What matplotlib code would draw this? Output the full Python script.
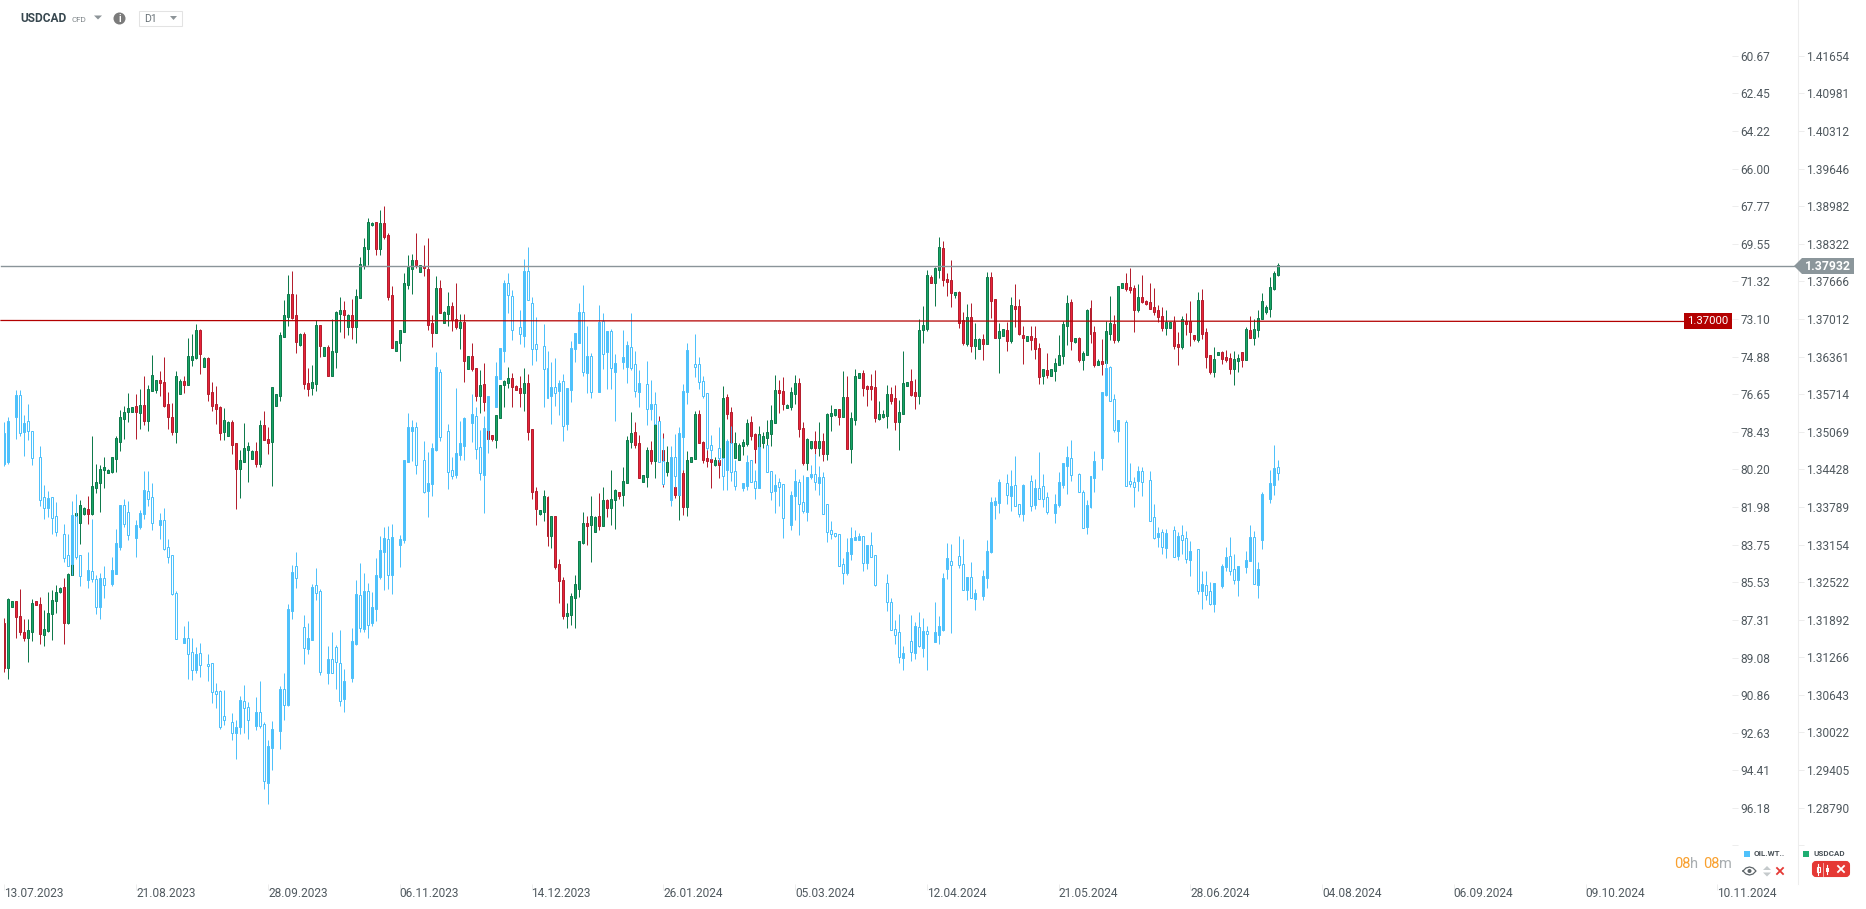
import matplotlib
matplotlib.use('Agg')
import matplotlib.pyplot as plt
from matplotlib.patches import Rectangle, Polygon, Circle, FancyBboxPatch
from matplotlib.ticker import NullLocator, FixedLocator, FixedFormatter

plt.rcParams['font.family'] = ['Roboto', 'DejaVu Sans']

# USDCAD daily candles: open, high, low, close in 1/10000
usd_part1 = [
[13183,13192,13103,13108],[13108,13225,13091,13224],[13211,13221,13210,13220],[13220,13221,13159,13193],[13195,13240,13163,13168],[13168,13190,13154,13159],
[13159,13191,13118,13172],[13168,13224,13153,13217],[13220,13220,13213,13213],[13215,13227,13149,13166],[13164,13206,13146,13173],[13171,13235,13169,13200],
[13198,13239,13156,13222],[13220,13247,13200,13235],[13235,13244,13234,13242],[13244,13259,13149,13183],[13184,13267,13182,13266],[13264,13340,13264,13334],
[13334,13385,13318,13368],[13351,13391,13317,13383],[13367,13378,13366,13377],[13376,13397,13350,13367],[13367,13500,13365,13414],[13411,13452,13402,13421],
[13419,13450,13370,13444],[13442,13464,13411,13446],[13437,13443,13437,13442],[13438,13464,13437,13464],[13461,13500,13438,13496],[13490,13544,13474,13532],
[13529,13551,13495,13540],[13541,13573,13524,13547],[13540,13550,13540,13550],[13551,13572,13495,13540],[13539,13580,13512,13553],[13553,13603,13519,13526],
[13526,13587,13509,13580],[13577,13639,13577,13604],[13579,13596,13573,13595],[13595,13611,13568,13590],[13593,13635,13549,13551],[13555,13575,13512,13532],
[13532,13556,13502,13507],[13507,13611,13488,13603],[13572,13597,13572,13594],[13594,13603,13573,13587],[13587,13668,13587,13637],[13630,13675,13620,13637],
[13634,13693,13632,13682],[13682,13683,13606,13641],[13619,13635,13618,13634],[13634,13635,13560,13572],[13575,13592,13543,13551],[13555,13585,13521,13546],
[13550,13551,13492,13505],[13507,13548,13493,13527],[13500,13526,13500,13524],[13524,13527,13469,13485],[13487,13488,13375,13443],[13443,13476,13394,13459],
[13455,13522,13455,13479],[13476,13490,13421,13483],[13460,13476,13460,13474],[13474,13490,13447,13452],[13452,13527,13447,13518],[13518,13543,13492,13492],
[13495,13515,13469,13488],[13489,13584,13414,13584],[13551,13572,13551,13571],[13568,13679,13560,13674],[13670,13734,13670,13708],[13705,13778,13689,13745],
[13745,13785,13701,13703],[13708,13745,13642,13661],[13656,13677,13654,13676],[13675,13679,13580,13589],[13590,13616,13568,13580],[13582,13622,13570,13592],
[13589,13700,13577,13691],[13691,13691,13635,13654],[13637,13653,13637,13653],[13653,13656,13603,13603],[13603,13701,13603,13646],[13644,13715,13616,13713],
[13710,13739,13679,13717],[13717,13733,13668,13708],[13687,13710,13674,13708],[13708,13736,13667,13687],[13687,13753,13660,13741],[13738,13809,13738,13797],
[13793,13842,13788,13826],[13824,13878,13795,13871],[13865,13871,13864,13869],[13870,13871,13812,13823],[13823,13891,13812,13869],[13869,13898,13840,13844],
[13847,13851,13734,13739],[13743,13759,13651,13651],[13646,13663,13646,13663],[13660,13682,13628,13682],[13679,13781,13679,13764],[13760,13812,13753,13792],
[13788,13814,13745,13804],[13804,13852,13790,13795],[13783,13795,13783,13795],[13794,13830,13776,13790],[13788,13842,13682,13691],[13694,13708,13653,13677],
[13677,13776,13677,13755],[13755,13769,13711,13712],[13694,13715,13694,13714],[13710,13748,13689,13724],
]
usd_part2 = [
[13724,13731,13681,13700],[13702,13764,13684,13688],[13686,13710,13650,13696],[13696,13710,13592,13629],[13615,13637,13615,13637],[13637,13660,13611,13615],
[13617,13617,13560,13568],[13568,13613,13539,13587],[13589,13625,13543,13558],[13527,13567,13493,13494],[13502,13502,13491,13494],[13493,13536,13479,13536],
[13531,13587,13531,13587],[13587,13596,13550,13594],[13591,13618,13582,13599],[13599,13608,13550,13584],[13585,13587,13579,13579],[13582,13603,13550,13573],
[13573,13617,13543,13591],[13591,13606,13493,13507],[13512,13512,13392,13404],[13406,13413,13348,13376],[13367,13374,13365,13374],[13370,13408,13355,13398],
[13396,13398,13313,13330],[13330,13364,13310,13364],[13364,13364,13275,13278],[13283,13291,13217,13254],[13256,13261,13191,13196],[13196,13217,13175,13201],
[13197,13234,13180,13229],[13226,13264,13175,13249],[13241,13321,13228,13321],[13318,13370,13317,13352],[13352,13364,13315,13347],[13348,13398,13286,13364],
[13337,13364,13337,13362],[13364,13402,13340,13347],[13347,13413,13347,13391],[13391,13392,13362,13377],[13377,13442,13348,13392],[13391,13409,13342,13408],
[13404,13404,13392,13398],[13399,13447,13380,13423],[13420,13500,13420,13493],[13490,13541,13479,13505],[13507,13524,13479,13485],[13488,13502,13428,13428],
[13421,13433,13421,13433],[13430,13481,13413,13476],[13476,13491,13452,13457],[13457,13522,13428,13520],[13520,13534,13459,13470],[13476,13504,13413,13457],
[13438,13482,13431,13455],[13419,13459,13408,13448],[13413,13419,13394,13399],[13399,13448,13357,13430],[13436,13448,13365,13379],[13379,13474,13364,13459],
[13455,13464,13455,13464],[13461,13543,13461,13538],[13538,13544,13488,13488],[13490,13491,13454,13459],[13462,13477,13447,13457],[13460,13462,13411,13455],
[13450,13464,13449,13459],[13459,13464,13428,13450],[13462,13585,13459,13565],[13567,13572,13529,13538],[13541,13550,13470,13488],[13462,13507,13462,13488],
[13459,13487,13459,13485],[13482,13495,13467,13490],[13486,13529,13482,13522],[13524,13534,13493,13500],[13503,13504,13454,13478],[13479,13517,13476,13503],
[13488,13507,13479,13500],[13497,13527,13479,13507],[13503,13553,13483,13527],[13522,13604,13522,13579],[13579,13596,13539,13573],[13577,13601,13544,13555],
[13548,13555,13548,13553],[13550,13584,13544,13575],[13572,13604,13555,13591],[13591,13599,13498,13512],[13514,13524,13450,13454],[13454,13497,13442,13495],
[13479,13491,13477,13491],[13491,13509,13469,13479],[13479,13524,13466,13491],[13491,13504,13457,13469],[13469,13539,13459,13538],[13534,13553,13509,13539],
[13536,13546,13534,13546],[13546,13546,13519,13532],[13532,13611,13532,13567],[13567,13603,13478,13478],[13478,13541,13454,13530],[13527,13615,13519,13603],
[13599,13608,13599,13608],[13608,13613,13568,13582],[13585,13587,13551,13580],[13585,13606,13561,13580],[13584,13613,13524,13531],[13529,13560,13527,13538],
[13532,13544,13531,13538],[13534,13587,13514,13572],[13572,13584,13555,13560],[13564,13587,13510,13524],[13524,13561,13476,13541],
]
usd_part3 = [
[13538,13646,13538,13591],[13585,13592,13585,13592],[13594,13615,13568,13570],[13575,13598,13546,13568],[13568,13702,13555,13682],[13682,13724,13660,13691],
[13684,13787,13681,13778],[13774,13778,13764,13764],[13764,13792,13724,13790],[13787,13844,13773,13826],[13825,13837,13759,13769],[13771,13781,13741,13766],
[13769,13804,13722,13747],[13743,13748,13738,13748],[13748,13750,13685,13695],[13700,13714,13656,13660],[13658,13728,13655,13705],[13705,13729,13644,13655],
[13655,13695,13632,13667],[13650,13669,13650,13667],[13667,13676,13630,13658],[13658,13783,13658,13774],[13774,13783,13703,13733],[13736,13736,13669,13669],
[13669,13695,13608,13681],[13672,13684,13672,13684],[13682,13696,13646,13663],[13663,13740,13660,13726],[13724,13762,13688,13719],[13724,13736,13674,13676],
[13674,13689,13624,13669],[13663,13672,13663,13672],[13672,13689,13648,13665],[13669,13689,13632,13650],[13651,13660,13589,13601],[13603,13615,13589,13615],
[13613,13643,13599,13604],[13603,13615,13603,13615],[13611,13634,13594,13625],[13622,13674,13622,13639],[13637,13698,13624,13693],[13689,13743,13656,13729],
[13731,13736,13648,13663],[13662,13669,13660,13669],[13669,13670,13627,13630],[13630,13646,13613,13643],[13639,13719,13639,13717],[13721,13734,13660,13676],
[13679,13689,13618,13622],[13622,13632,13622,13629],[13629,13667,13604,13624],[13625,13698,13616,13681],[13676,13741,13665,13695],[13693,13708,13660,13665],
[13665,13759,13662,13759],[13755,13764,13755,13764],[13764,13781,13750,13754],[13757,13790,13747,13752],[13755,13761,13679,13717],[13717,13762,13714,13740],
[13740,13778,13729,13731],[13733,13734,13726,13728],[13731,13764,13719,13719],[13722,13755,13708,13714],[13717,13726,13696,13705],[13707,13722,13681,13686],
[13686,13717,13674,13696],[13686,13696,13686,13696],[13696,13707,13650,13655],[13658,13679,13622,13653],[13653,13707,13650,13701],[13698,13712,13674,13693],
[13698,13733,13655,13679],[13674,13674,13663,13667],[13665,13748,13662,13734],[13734,13754,13667,13676],[13679,13686,13617,13636],[13639,13639,13606,13610],
[13610,13653,13601,13632],[13639,13644,13639,13644],[13644,13646,13624,13632],[13636,13648,13627,13630],[13634,13643,13606,13615],[13615,13646,13587,13632],
[13629,13641,13610,13634],[13644,13644,13618,13630],[13630,13688,13630,13684],[13682,13707,13669,13669],[13669,13701,13656,13684],[13682,13717,13670,13703],
[13701,13747,13701,13733],[13714,13726,13710,13722],[13719,13774,13705,13757],[13754,13784,13752,13781],[13778,13798,13776,13795],
]

# OIL.WTI candles on the same dates: open, high, low, close in cents, None on days without a candle
oil_part1 = [
[7849,8003,7796,7992],[7984,7994,7772,7791],None,[7772,7876,7645,7668],[7668,7862,7645,7848],[7843,7956,7763,7800],[7791,7881,7711,7837],[7838,7999,7838,7966],None,
[7961,8192,7909,8164],[8150,8253,8093,8202],[8202,8244,8121,8154],[8150,8324,8150,8249],[8239,8334,8173,8315],None,[8324,8456,8277,8437],[8423,8475,8324,8475],
[8466,8518,8168,8235],[8239,8442,8135,8433],[8423,8570,8423,8522],None,[8541,8579,8409,8494],[8499,8551,8253,8537],[8537,8702,8518,8669],[8669,8725,8508,8532],
[8532,8626,8475,8565],None,[8560,8570,8433,8494],[8513,8513,8301,8367],[8386,8400,8187,8187],[8187,8290,8159,8277],[8220,8352,8168,8329],None,[8343,8433,8258,8282],
[8291,8301,8211,8225],[8230,8253,8027,8117],[8121,8192,8027,8159],[8150,8305,8084,8272],None,[8282,8348,8225,8258],[8258,8400,8201,8395],[8386,8461,8348,8433],
[8423,8612,8423,8607],[8603,8820,8593,8820],None,[8837,8837,8758,8817],[8817,9008,8735,8892],[8883,9013,8815,8968],[8969,8980,8857,8890],[8887,8999,8839,8944],None,
[8939,9018,8890,8949],[8935,9122,8935,9071],[9067,9145,9027,9081],[9067,9244,9060,9238],[9185,9226,9060,9205],None,[9213,9296,9169,9265],[9263,9386,9202,9235],
[9235,9268,9089,9108],[9112,9263,9037,9144],[9142,9292,9117,9205],None,[9230,9249,9093,9164],[9164,9240,9018,9230],[9222,9527,9211,9493],[9498,9598,9296,9325],
[9334,9438,9207,9244],None,[9254,9339,9041,9056],[9056,9202,8980,9134],[9131,9139,8655,8678],[8688,8725,8470,8504],[8475,8579,8409,8533],None,[8765,8938,8706,8861],
[8867,8890,8744,8817],[8824,8824,8560,8574],[8566,8636,8485,8603],[8593,8991,8584,8975],None,[8983,9032,8853,8916],[8916,8983,8787,8983],[8859,9056,8848,8931],
[8935,9136,8777,9111],[9103,9164,8961,9018],None,[9004,9023,8768,8829],[8843,8848,8541,8609],[8614,8787,8461,8768],[8772,8787,8508,8595],[8595,8815,8555,8754],
[8744,8758,8599,8670],[8678,8735,8437,8518],[8527,8537,8334,8400],[8409,8588,8291,8343],[8348,8584,8286,8518],[8518,8607,8277,8338],None,[8376,8480,8329,8348],
[8352,8367,7975,7975],[7984,7984,7753,7819],[7838,7980,7786,7819],[7819,8041,7796,7999],None,[7975,8131,7885,8126],[8121,8244,7937,8084],[8088,8145,7895,7918],
[7928,7932,7465,7536],[7560,7885,7546,7866],None,[7838,8112,7805,8032],
]
oil_part2 = [
[8022,8065,7961,8049],[8046,8061,7637,7943],[7951,7975,7791,7896],[7909,7975,7774,7778],None,[7800,7890,7663,7759],[7769,7970,7725,7925],[7915,8072,7833,8038],
[8046,8225,7767,7826],[7833,7942,7673,7673],None,[7725,7725,7514,7579],[7593,7593,7446,7446],[7461,7512,7126,7140],[7140,7281,7092,7196],[7201,7409,7173,7361],None,
[7347,7428,7267,7383],[7390,7442,7026,7083],[7083,7218,6970,7218],[7234,7527,7206,7451],[7428,7508,7300,7451],None,[7437,7725,7333,7544],[7541,7682,7461,7682],
[7673,7805,7512,7630],[7630,7720,7494,7657],[7649,7763,7597,7612],[7602,7885,7569,7814],[7805,7833,7635,7635],[7645,7701,7413,7446],[7451,7512,7376,7376],
[7423,7423,7234,7277],[7277,7579,7149,7560],[7564,7659,7343,7484],[7484,7682,7470,7654],None,[7654,7654,7243,7322],[7319,7547,7281,7473],[7465,7640,7366,7366],
[7366,7640,7357,7541],[7560,7791,7475,7517],None,[7512,7545,7361,7489],[7536,7612,7413,7432],[7442,7550,7281,7541],[7522,7678,7461,7649],[7654,7725,7550,7612],None,
[7616,7810,7508,7734],[7734,7786,7597,7711],[7711,7805,7654,7805],[7792,7983,7791,7983],[7980,8093,7871,8088],None,[8164,8192,7909,7961],[7961,8101,7852,8050],
[8140,8140,7819,7848],[7866,8022,7618,7649],[7654,7711,7423,7456],None,[7522,7582,7380,7536],[7522,7640,7489,7607],[7602,7682,7579,7673],[7659,7928,7659,7918],
[7904,7970,7857,7928],None,[7918,7984,7819,7965],[7965,8116,7965,8050],[8022,8116,7876,7885],[7895,8074,7814,8032],[8027,8116,7975,8098],None,[8107,8121,8083,8083],
[8098,8116,7951,7984],[7975,8079,7975,8079],[8074,8159,8022,8107],[8107,8107,7857,7914],None,[7904,8032,7904,8032],[8027,8164,8027,8126],[8121,8225,8041,8093],
[8079,8192,8060,8102],[8088,8343,8088,8249],None,[8282,8305,8121,8140],[8145,8258,8017,8074],[8079,8329,8065,8183],[8173,8225,8046,8216],[8220,8263,8055,8055],
[8055,8065,7999,8041],[8041,8116,7947,8079],[8083,8140,8003,8055],[8055,8230,8032,8230],[8183,8362,8183,8315],[8305,8348,8263,8324],[8321,8338,8319,8334],
[8324,8475,8324,8475],[8466,8560,8437,8508],[8508,8518,8343,8409],
]
oil_part3 = [
[8419,8447,8292,8344],[8353,8353,8306,8339],[8353,8353,8320,8334],[8334,8499,8334,8462],[8462,8490,8377,8377],[8377,8433,8315,8433],[8424,8570,8424,8565],None,None,
[8556,8688,8514,8646],[8646,8778,8627,8778],[8773,8844,8731,8801],[8787,8933,8702,8905],[8910,8967,8853,8886],None,[8830,8924,8707,8882],[8886,8915,8740,8759],
[8764,8858,8693,8853],[8863,8905,8721,8783],[8783,8967,8759,8795],None,[8834,8834,8646,8787],[8801,8844,8712,8759],[8778,8783,8509,8532],[8490,8537,8367,8438],
[8452,8792,8372,8471],None,[8429,8485,8334,8471],[8466,8589,8348,8589],[8589,8636,8528,8528],[8528,8627,8457,8627],[8631,8683,8584,8603],None,[8617,8636,8495,8523],
[8532,8580,8353,8405],[8410,8414,8150,8174],[8188,8254,8150,8169],[8178,8226,8065,8079],None,[8084,8183,8042,8141],[8145,8216,8023,8098],[8094,8193,7957,8193],
[8183,8245,8183,8230],[8230,8263,8089,8094],None,[8075,8216,8046,8193],[8188,8207,8065,8108],[8108,8160,7938,8160],[8098,8197,8042,8160],[8150,8230,8127,8221],None,
[8226,8273,8136,8183],[8188,8197,8032,8079],[8094,8108,7990,7990],[8004,8136,7909,7961],[7966,8075,7881,8046],None,[8042,8127,8037,8127],[8127,8296,8117,8296],
[8292,8325,8164,8188],[8197,8202,8051,8051],[8060,8127,7933,7980],None,[7966,8023,7655,7655],[7669,7674,7504,7541],[7537,7697,7532,7697],[7688,7843,7664,7834],
[7839,7891,7787,7787],None,[7796,8098,7787,8098],[8075,8103,7990,8089],[8079,8197,8056,8103],[8075,8122,8004,8027],[8027,8145,8009,8079],None,[8070,8263,8027,8263],
[8245,8348,8183,8344],[8339,8386,8292,8320],[8315,8419,8301,8386],[8391,8438,8301,8320],None,[8306,8433,8287,8433],[8429,8447,8315,8334],[8330,8419,8282,8353],
[8344,8462,8311,8443],[8447,8523,8358,8405],None,[8396,8608,8396,8594],[8594,8679,8499,8561],[8565,8636,8499,8613],[8594,8660,8551,8655],[8655,8693,8556,8556],None,
[8570,8580,8466,8476],[8480,8499,8386,8433],[8429,8518,8339,8499],[8491,8561,8419,8542],[8542,8617,8476,8476],None,[8480,8509,8405,8447],[8452,8452,8282,8339],
[8339,8561,8311,8561],[8565,8627,8457,8490],[8353,8396,8127,8136],None,[8160,8178,8023,8084],[8094,8141,7905,8013],[8009,8070,7976,8037],
]

usd_ticks = [1.41654, 1.40981, 1.40312, 1.39646, 1.38982, 1.38322, 1.37666, 1.37012, 1.36361, 1.35714, 1.35069,
             1.34428, 1.33789, 1.33154, 1.32522, 1.31892, 1.31266, 1.30643, 1.30022, 1.29405, 1.28790]
oil_ticks = [60.67, 62.45, 64.22, 66.00, 67.77, 69.55, 71.32, 73.10, 74.88, 76.65, 78.43,
             80.20, 81.98, 83.75, 85.53, 87.31, 89.08, 90.86, 92.63, 94.41, 96.18]
date_labels = ['13.07.2023', '21.08.2023', '28.09.2023', '06.11.2023', '14.12.2023', '26.01.2024', '05.03.2024',
               '12.04.2024', '21.05.2024', '28.06.2024', '04.08.2024', '06.09.2024', '09.10.2024', '10.11.2024']
date_index = [33 * i for i in range(len(date_labels))]

last_price = 1.37932
level_left = 1.36986
level_right = 1.36969

W, H = 1866, 909
AXIS_X, AXIS_Y = 1798, 884
GREY_TXT = '#50595f'
FAINT = '#ededed'
OIL_BLUE = '#4fc1fb'

fig = plt.figure(figsize=(W / 100, H / 100), dpi=100, facecolor='white')
rect = [0, (H - AXIS_Y) / H, AXIS_X / W, AXIS_Y / H]

ax = fig.add_axes(rect)
ax.set_yscale('log')
ax.set_xlim(-1.127, 449.2)
ax.set_ylim(1.27551, 1.42660)


def draw_candles(axis, rows, up_face, down_face, up_edge, down_edge, scale):
    x = [i for i, r in enumerate(rows) if r is not None]
    rows = [r for r in rows if r is not None]
    o = [r[0] / scale for r in rows]
    hi = [r[1] / scale for r in rows]
    lo = [r[2] / scale for r in rows]
    c = [r[3] / scale for r in rows]
    wick = [up_edge if c[i] >= o[i] else down_edge for i in range(len(x))]
    axis.vlines(x, lo, hi, colors=wick, linewidth=0.72, zorder=2)
    bottom = [min(o[i], c[i]) for i in range(len(x))]
    height = [abs(o[i] - c[i]) for i in range(len(x))]
    face = [up_face if c[i] >= o[i] else down_face for i in range(len(x))]
    axis.bar(x, height, bottom=bottom, width=0.5, color=face, edgecolor=wick, linewidth=0.72, zorder=3)


usd_rows = usd_part1 + usd_part2 + usd_part3
oil_rows = oil_part1 + oil_part2 + oil_part3
draw_candles(ax, usd_rows, '#18a566', '#e8233a', '#0f7a4c', '#b41f2e', 10000)

# oil scale sits inside the chart, inverted
ax_oil = ax.twinx()
ax_oil.set_ylim(99.77, 58.04)
draw_candles(ax_oil, oil_rows, 'white', OIL_BLUE, OIL_BLUE, OIL_BLUE, 100)
ax_oil.spines['right'].set_position(('axes', 1732 / AXIS_X))
for s in ax_oil.spines.values():
    s.set_visible(False)
ax_oil.yaxis.set_major_locator(FixedLocator(oil_ticks + [97.95]))
ax_oil.yaxis.set_major_formatter(FixedFormatter(['%.2f' % t for t in oil_ticks] + ['']))
ax_oil.tick_params(axis='y', length=4, width=0.72, color=FAINT, labelcolor=GREY_TXT, labelsize=8.6, pad=2)

# right hand scale, last tick has no label in the chart
ax.yaxis.tick_right()
ax.yaxis.set_major_locator(FixedLocator(usd_ticks + [1.28180]))
ax.yaxis.set_major_formatter(FixedFormatter(['%.5f' % t for t in usd_ticks] + ['']))
ax.yaxis.set_minor_locator(NullLocator())
ax.tick_params(axis='y', which='major', length=4, width=0.72, color=FAINT, labelcolor=GREY_TXT, labelsize=8.6, pad=2)
ax.set_xticks(date_index)
ax.set_xticklabels(date_labels, ha='left')
ax.tick_params(axis='x', length=4, width=0.72, color=FAINT, labelcolor=GREY_TXT, labelsize=8.6, pad=-1.5)
for s in ['top', 'left', 'bottom']:
    ax.spines[s].set_visible(False)
ax.spines['right'].set_color(FAINT)

# horizontal levels go over both series
ax_lv = fig.add_axes(rect, frameon=False)
ax_lv.set_yscale('log')
ax_lv.set_xlim(0, AXIS_X)
ax_lv.set_ylim(1.27551, 1.42660)
ax_lv.axis('off')
ax_lv.plot([1, 1795], [last_price, last_price], color='#8a9499', linewidth=1.0)
ax_lv.plot([1, 1684], [level_left, level_right], color='#b30000', linewidth=0.9)

# chart furniture, in pixels
ui = fig.add_axes([0, 0, 1, 1], frameon=False)
ui.set_xlim(0, W)
ui.set_ylim(H, 0)
ui.axis('off')

ui.add_patch(Polygon([(1794, 266), (1802, 258), (1854, 258), (1854, 274), (1802, 274)], color='#8b969b', lw=0))
ui.text(1828, 266.5, '1.37932', color='white', fontsize=8.8, fontweight='bold', ha='center', va='center')
ui.add_patch(Rectangle((1684, 313), 48, 16, color='#b30000', lw=0))
ui.text(1708, 321.5, '1.37000', color='white', fontsize=8.2, ha='center', va='center')

ui.text(20, 19, 'USDCAD', color='#37474f', fontsize=8.6, fontweight='bold', va='center')
ui.text(71, 19.5, 'CFD', color='#7d8488', fontsize=5.8, va='center')
ui.add_patch(Polygon([(94, 15.5), (102, 15.5), (98, 19.5)], color='#8d9498', lw=0))
ui.add_patch(Circle((119.5, 18.5), 6, color='#7b7b7b', lw=0))
ui.text(119.5, 18.5, 'i', color='white', fontsize=7, fontweight='bold', ha='center', va='center')
ui.add_patch(Rectangle((138.5, 10.5), 43, 15, facecolor='white', edgecolor='#e3e3e3', lw=0.75))
ui.text(144, 18.5, 'D1', color='#6a7378', fontsize=7.6, va='center')
ui.add_patch(Polygon([(170, 16), (177, 16), (173.5, 20)], color='#8d9498', lw=0))

ui.text(1674, 864, '08', color='#f9a02e', fontsize=10.5, va='center')
ui.text(1690, 864.5, 'h', color='#a8adb0', fontsize=10.5, va='center')
ui.text(1703, 864, '08', color='#f9a02e', fontsize=10.5, va='center')
ui.text(1719, 864.5, 'm', color='#a8adb0', fontsize=10.5, va='center')

ui.add_patch(Rectangle((1744, 851), 6, 6, color=OIL_BLUE, lw=0))
ui.text(1754, 854, 'OIL.WT..', color='#4a5258', fontsize=5.8, fontweight='bold', va='center')
ui.add_patch(Rectangle((1803, 851), 6, 6, color='#1fae72', lw=0))
ui.text(1813, 854, 'USDCAD', color='#4a5258', fontsize=5.8, fontweight='bold', va='center')
# eye
ui.plot([1743, 1746, 1749.5, 1753, 1756, 1753, 1749.5, 1746, 1743],
        [871, 868, 867, 868, 871, 874, 875, 874, 871], color='#5c6468', lw=0.9)
ui.add_patch(Circle((1749.5, 871), 2, color='#5c6468', lw=0))
ui.add_patch(Polygon([(1763, 870), (1771, 870), (1767, 866)], color='#c5cacc', lw=0))
ui.add_patch(Polygon([(1763, 872.5), (1771, 872.5), (1767, 876.5)], color='#c5cacc', lw=0))
ui.plot([1777, 1783], [868, 874], color='#e53935', lw=1.3)
ui.plot([1783, 1777], [868, 874], color='#e53935', lw=1.3)
ui.add_patch(FancyBboxPatch((1813, 862), 36, 14, boxstyle='round,pad=0,rounding_size=3', mutation_aspect=1,
                            facecolor='#e53935', edgecolor='#e53935', lw=1.5))
ui.plot([1818, 1818], [864, 875], color='white', lw=0.8)
ui.add_patch(Rectangle((1816.5, 866.5), 3, 5, facecolor='#e53935', edgecolor='white', lw=0.8))
ui.plot([1822.5, 1822.5], [863, 876], color='#f6b8b6', lw=0.6)
ui.plot([1827, 1827], [865, 874], color='white', lw=0.8)
ui.add_patch(Rectangle((1825.5, 867.5), 3, 4, color='white', lw=0))
ui.plot([1838, 1844], [866, 872], color='white', lw=1.3)
ui.plot([1844, 1838], [866, 872], color='white', lw=1.3)

fig.savefig('out.png', dpi=100, facecolor='white')
